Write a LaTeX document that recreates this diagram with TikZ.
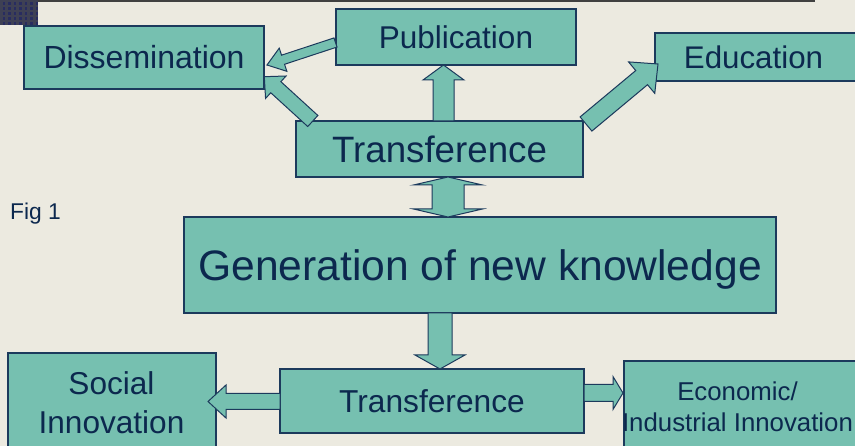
\documentclass[tikz,border=0pt]{standalone}
\usepackage{fontspec}
\setmainfont{Liberation Sans}
\usetikzlibrary{calc}
\definecolor{boxfill}{RGB}{118,192,176}
\definecolor{boxline}{RGB}{28,58,92}
\definecolor{txtcol}{RGB}{12,40,78}
\definecolor{bgcol}{RGB}{236,234,224}
\definecolor{cornercol}{RGB}{62,64,84}
\definecolor{cornerdot}{RGB}{40,44,96}
\newcommand\fsz[2]{\fontsize{#1}{#2}\selectfont}
% block arrow: #1 tail, #2 tip, #3 half shaft, #4 half head, #5 head length
\newcommand\blockarr[5]{%
  \draw[barrow] ($(#1)!#3!90:(#2)$) -- ($(#2)!#5!(#1)!#3!-90:(#1)$)
    -- ($(#2)!#5!(#1)!#4!-90:(#1)$) -- (#2)
    -- ($(#2)!#5!(#1)!#4!90:(#1)$) -- ($(#2)!#5!(#1)!#3!90:(#1)$)
    -- ($(#1)!#3!-90:(#2)$) -- cycle;}
% double-headed block arrow
\newcommand\dblarr[5]{%
  \draw[barrow] (#1) -- ($(#1)!#5!(#2)!#4!90:(#2)$) -- ($(#1)!#5!(#2)!#3!90:(#2)$)
    -- ($(#2)!#5!(#1)!#3!-90:(#1)$) -- ($(#2)!#5!(#1)!#4!-90:(#1)$) -- (#2)
    -- ($(#2)!#5!(#1)!#4!90:(#1)$) -- ($(#2)!#5!(#1)!#3!90:(#1)$)
    -- ($(#1)!#5!(#2)!#3!-90:(#2)$) -- ($(#1)!#5!(#2)!#4!-90:(#2)$) -- cycle;}
\begin{document}
\begin{tikzpicture}[x=1pt,y=-1pt,
  box/.style={draw=boxline, fill=boxfill, line width=1.3pt, inner sep=0pt, text=txtcol},
  lbl/.style={inner sep=0pt, text=txtcol},
  barrow/.style={draw=boxline, fill=boxfill, line width=1pt, line join=miter}]
\useasboundingbox (0,0) rectangle (855,446);
\clip (0,0) rectangle (855,446);
\fill[bgcol] (0,0) rectangle (855,446);
% top-left corner patch and top rule
\fill[cornercol] (0,0) rectangle (38,25);
\foreach \i in {0,...,6}{\foreach \j in {0,...,4}{
  \fill[cornerdot] (2.5+\i*5.5,2.5+\j*5) rectangle +(2.5,2.5);}}
\draw[black!75, line width=1.6pt] (38,0.8) -- (815,0.8);

% boxes
\node[box, minimum width=240pt, minimum height=63pt, font=\fsz{32}{38}, text height=22.9pt, text depth=0pt]
  (dis) at (144,57.5) {Dissemination};
\node[box, minimum width=240pt, minimum height=56pt, font=\fsz{31.5}{38}, text height=22.6pt, text depth=0pt]
  (pub) at (456,37) {Publication};
\node[box, minimum width=225pt, minimum height=48pt] (edu) at (767.5,57) {};
\node[lbl, font=\fsz{31.3}{38}, text height=22.4pt, text depth=0pt] (edut) at (753.5,57) {Education};
\node[box, minimum width=287pt, minimum height=56pt, font=\fsz{36.7}{44}, text height=26.3pt, text depth=0pt]
  (ttop) at (439.5,149) {Transference};
\node[box, minimum width=592pt, minimum height=96pt, font=\fsz{42.6}{51}, text height=30.5pt, text depth=0pt]
  (gen) at (480,265) {Generation of new knowledge};
\node[box, minimum width=304pt, minimum height=64pt, font=\fsz{31.7}{38}, text height=22.7pt, text depth=0pt]
  (tbot) at (432,401) {Transference};
\node[box, minimum width=208pt, minimum height=117pt] (soc) at (112,411.5) {};
\node[lbl, anchor=north, align=center, font=\fsz{31.6}{39}] (soct) at (111.5,371.5) {Social\\Innovation};
\node[box, minimum width=256pt, minimum height=109pt] (econ) at (752,415.5) {};
\node[lbl, anchor=north, align=center, font=\fsz{25.8}{31}] (econt) at (737.5,381.5) {Economic/\\Industrial Innovation};
\node[lbl, anchor=base west, font=\fsz{22.8}{27}] (fig) at (10,220) {Fig 1};

% arrow end points
\coordinate (a1s) at (335.5,42.5);  \coordinate (a1e) at (267,65);
\coordinate (a2s) at (312.8,121);   \coordinate (a2e) at (264.3,76.7);
\coordinate (a3s) at (443.5,121);   \coordinate (a3e) at (443.5,65);
\coordinate (a4s) at (586,124);     \coordinate (a4e) at (658,64);
\coordinate (a5s) at (448,177);     \coordinate (a5e) at (448,217);
\coordinate (a6s) at (440,313);     \coordinate (a6e) at (440,369);
\coordinate (a7s) at (280,401.5);   \coordinate (a7e) at (208,401.5);
\coordinate (a8s) at (584,393);     \coordinate (a8e) at (623,393);

% block arrows
\blockarr{a1s}{a1e}{4.8pt}{12.2pt}{16.9pt}
\blockarr{a2s}{a2e}{7.5pt}{15.2pt}{15.6pt}
\blockarr{a3s}{a3e}{10.5pt}{20.5pt}{15pt}
\blockarr{a4s}{a4e}{9.2pt}{20.5pt}{21.3pt}
\dblarr{a5s}{a5e}{16pt}{34.5pt}{8pt}
\blockarr{a6s}{a6e}{12pt}{25pt}{14pt}
\blockarr{a7s}{a7e}{8pt}{16.5pt}{18pt}
\blockarr{a8s}{a8e}{8.5pt}{16.5pt}{10pt}
\end{tikzpicture}
\end{document}
